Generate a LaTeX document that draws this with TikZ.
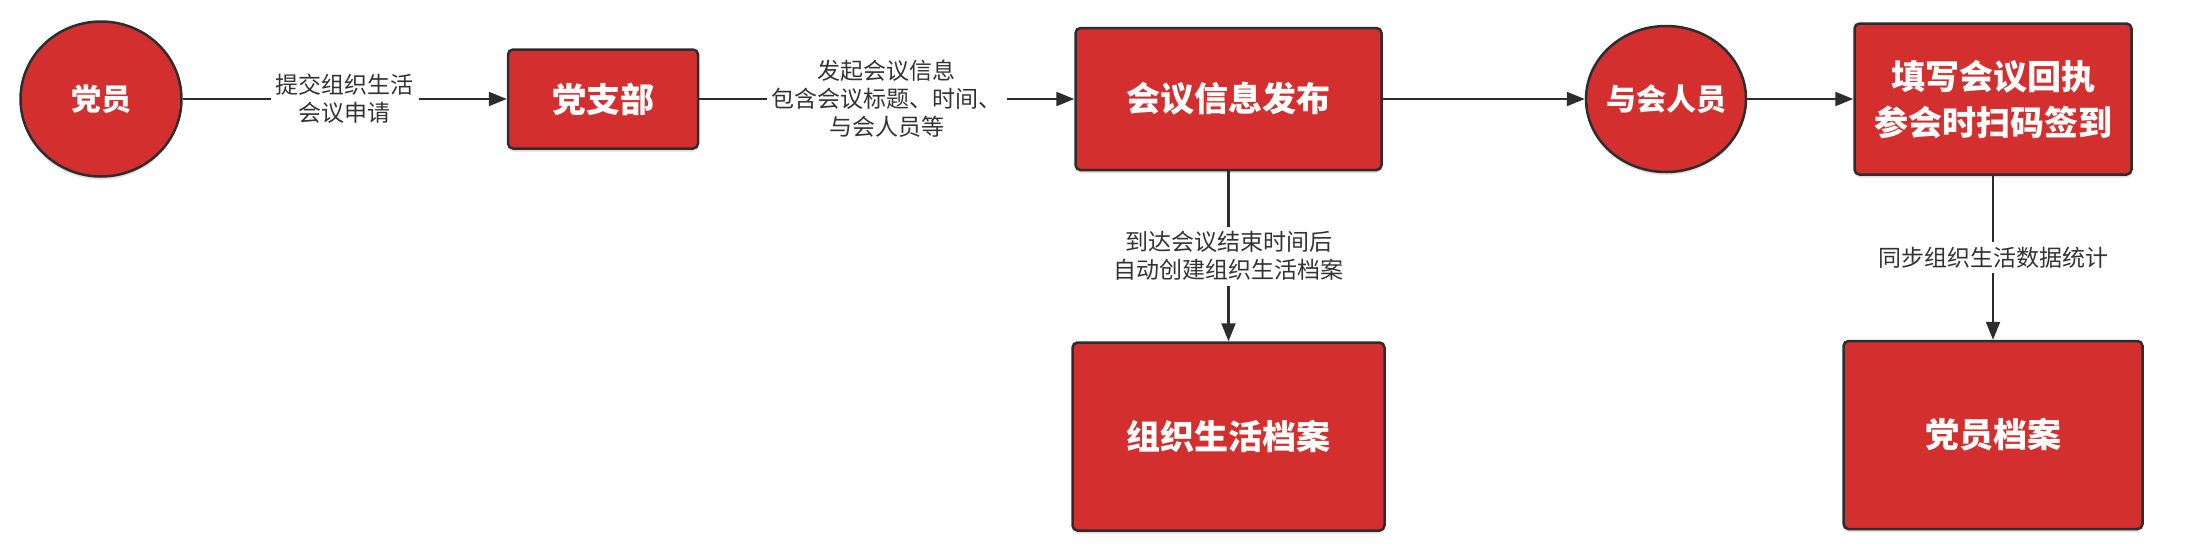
\documentclass[tikz,border=0pt]{standalone}
\usepackage{fontspec}
\setmainfont{Noto Sans CJK SC}
\usepackage{tikz}
\usetikzlibrary{positioning, arrows.meta, shapes.geometric, shadows}
\definecolor{partyred}{RGB}{211,47,47}
\definecolor{edgegray}{RGB}{45,45,45}
\definecolor{labeltext}{RGB}{51,51,51}

\begin{document}
\begin{tikzpicture}[
  x=1pt, y=-1pt,
  box/.style={
    rectangle, rounded corners=5pt, draw=edgegray, line width=2.5pt,
    fill=partyred, text=white, align=center, inner sep=0pt,
    drop shadow={shadow xshift=0pt, shadow yshift=-3pt, opacity=0.25},
    font=\fontsize{34}{46}\selectfont\bfseries
  },
  role/.style={
    ellipse, draw=edgegray, line width=2.5pt, fill=partyred,
    text=white, inner xsep=-20pt, inner ysep=0pt,
    drop shadow={shadow xshift=0pt, shadow yshift=-3pt, opacity=0.25},
    font=\fontsize{30}{36}\selectfont\bfseries
  },
  arr/.style={-{Triangle[length=18pt, width=14pt]}, line width=2.2pt, edgegray},
  lbl/.style={fill=white, text=labeltext, align=center, inner sep=5pt,
    font=\fontsize{23}{28}\selectfont}
]
\useasboundingbox (0,0) rectangle (2191,558);

\node[role, minimum width=161pt, minimum height=155pt] (member) at (101,99) {党员};
\node[box, minimum width=190pt, minimum height=99pt, right=324pt of member] (branch) {党支部};
\node[box, minimum width=306pt, minimum height=142pt, right=375pt of branch] (publish) {会议信息发布};
\node[role, minimum width=160pt, minimum height=146pt, right=202pt of publish] (attendee) {与会人员};
\node[box, minimum width=277pt, minimum height=151pt, right=106pt of attendee] (receipt) {填写会议回执\\参会时扫码签到};

\node[box, minimum width=312pt, minimum height=188pt, below=170pt of publish] (orgfile) {组织生活档案};
\node[box, minimum width=299pt, minimum height=188pt, below=164pt of receipt] (memberfile) {党员档案};

\draw[arr] (member) -- node[lbl] {提交组织生活\\会议申请} (branch);
\draw[arr] (branch) -- node[lbl] {发起会议信息\\包含会议标题、时间、\\与会人员等} (publish);
\draw[arr] (publish) -- (attendee);
\draw[arr] (attendee) -- (receipt);
\draw[arr] (publish) -- node[lbl] {到达会议结束时间后\\自动创建组织生活档案} (orgfile);
\draw[arr] (receipt) -- node[lbl] {同步组织生活数据统计} (memberfile);

\end{tikzpicture}
\end{document}
